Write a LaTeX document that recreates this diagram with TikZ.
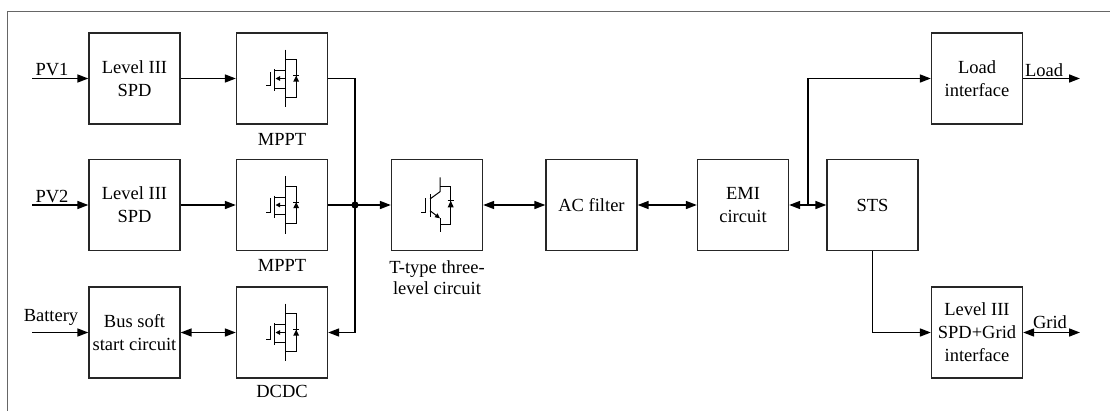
\documentclass[tikz,border=0pt]{standalone}
\usepackage{fontspec}
\setmainfont{Liberation Serif}
\usetikzlibrary{arrows.meta}
\begin{document}
\begin{tikzpicture}[x=1pt,y=-1pt,line cap=butt,
  blk/.style={draw=black!85,line width=1.3pt,minimum width=91pt,minimum height=91pt,inner sep=0pt,align=center,font=\fontspec{Liberation Serif}\fontsize{18.5}{23}\selectfont},
  lbl/.style={inner sep=0pt,align=center,font=\fontspec{Liberation Serif}\fontsize{18.5}{21}\selectfont},
  conn/.style={line width=1.6pt,black},
  arr/.style={conn,-{Triangle[length=11pt,width=8pt]}},
  darr/.style={conn,{Triangle[length=11pt,width=8pt]}-{Triangle[length=11pt,width=8pt]}},
  sym/.style={line width=1pt},
  mosfet/.pic={
    \draw[sym] (3.2,-28.8) -- (3.2,28.8);
    \draw[sym] (-7.5,-7.8) -- (3.2,-7.8);
    \draw[sym] (-7.5,9.5) -- (3.2,9.5);
    \draw[sym,-{Triangle[length=4.5pt,width=4.5pt]}] (3.2,0) -- (-6.5,0);
    \draw[sym] (-7.5,-9.5) -- (-7.5,12.8);
    \draw[sym] (-11.5,-6.8) -- (-11.5,7.2) -- (-16.5,7.2);
    \draw[sym] (3.2,-18.8) -- (14.2,-18.8) -- (14.2,18.8) -- (3.2,18.8);
    \fill (14.2,-2.8) -- (11.2,3.2) -- (17.2,3.2) -- cycle;
    \draw[sym] (11.2,-2.8) -- (17.2,-2.8);
  },
  igbt/.pic={
    \draw[sym] (-11.3,-6.7) -- (-11.3,7.3) -- (-16.3,7.3);
    \draw[sym] (-7,-11) -- (-7,12.3);
    \draw[sym] (-7,-6) -- (3,-13.3) -- (3,-27.7);
    \draw[sym,-{Triangle[length=5pt,width=4.5pt]}] (-7,5.7) -- (3,13.3);
    \draw[sym] (3,13.3) -- (3,27.3);
    \draw[sym] (3,-18.7) -- (13.7,-18.7) -- (13.7,19) -- (3,19);
    \fill (13.7,-4.3) -- (10.7,2.3) -- (16.7,2.3) -- cycle;
    \draw[sym] (10.7,-4.3) -- (16.7,-4.3);
  }]
\useasboundingbox (0,0) rectangle (1110,410);
% frame
\draw[black!60,line width=0.8pt] (7,415) -- (7,11.5) -- (1115,11.5);

% blocks
\node[blk] (spd1) at (134.5,78.5) {Level III\\SPD};
\node[blk] (spd2) at (134.5,205) {Level III\\SPD};
\node[blk] (bus) at (134.5,332.5) {Bus soft\\start circuit};
\node[blk] (mppt1) at (282,78.5) {};
\node[blk] (mppt2) at (282,205) {};
\node[blk] (dcdc) at (282,332.5) {};
\node[blk] (tt) at (437,205) {};
\node[blk] (ac) at (591.5,205) {AC filter};
\node[blk] (emi) at (743,205) {EMI\\circuit};
\node[blk] (sts) at (872.5,205) {STS};
\node[blk] (load) at (977,78.5) {Load\\interface};
\node[blk] (grid) at (977,332.5) {Level III\\SPD+Grid\\interface};

\pic at (mppt1) {mosfet};
\pic at (mppt2) {mosfet};
\pic at (dcdc) {mosfet};
\pic at (tt) {igbt};

% labels
\node[lbl] (lm1) at (282,139) {MPPT};
\node[lbl] (lm2) at (282,265) {MPPT};
\node[lbl] (ldc) at (282,391) {DCDC};
\node[lbl] (ltt) at (437,278) {T-type three-\\level circuit};
\node[lbl] (lpv1) at (52,70) {PV1};
\node[lbl] (lpv2) at (52,197) {PV2};
\node[lbl] (lbat) at (51,317) {Battery};
\node[lbl] (lload) at (1044,70) {Load};
\node[lbl] (lgrid) at (1050,322) {Grid};

% coordinates
\coordinate (pv1in) at (32,78.5);
\coordinate (pv2in) at (32,205);
\coordinate (batin) at (32,332.5);
\coordinate (jn) at (355,205);
\coordinate (br) at (808,205);
\coordinate (loadout) at (1080,78.5);
\coordinate (gridout) at (1080,332.5);

% connectors
\draw[arr] (pv1in) -- (spd1.west);
\draw[arr] (pv2in) -- (spd2.west);
\draw[arr] (batin) -- (bus.west);
\draw[arr] (spd1) -- (mppt1);
\draw[arr] (spd2) -- (mppt2);
\draw[darr] (bus) -- (dcdc);
\draw[conn] (mppt1.east) -| (jn);
\draw[conn] (mppt2.east) -- (jn);
\draw[arr] (jn) |- (dcdc.east);
\draw[arr] (jn) -- (tt.west);
\fill (jn) circle (3.6pt);
\draw[darr] (tt) -- (ac);
\draw[darr] (ac) -- (emi);
\draw[darr] (emi) -- (sts);
\draw[arr] (br) |- (load.west);
\draw[arr] (sts.south) |- (grid.west);
\draw[arr] (load.east) -- (loadout);
\draw[darr] (grid.east) -- (gridout);
\end{tikzpicture}
\end{document}
